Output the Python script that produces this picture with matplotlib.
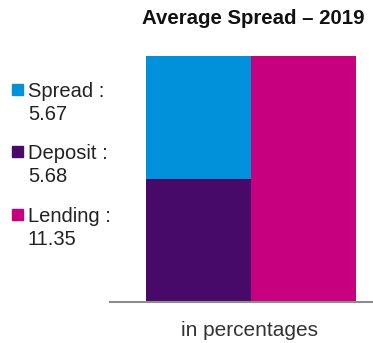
import matplotlib
matplotlib.use("Agg")
import matplotlib.pyplot as plt
from matplotlib.patches import Rectangle

plt.rcParams['font.family'] = ['Liberation Sans', 'DejaVu Sans']

# Data
labels = ["Spread", "Deposit", "Lending"]
values = [5.67, 5.68, 11.35]
colors = ["#0091DA", "#470A68", "#C6007E"]
title = "Average Spread \u2013 2019"
xlabel = "in percentages"

fig = plt.figure(figsize=(3.73, 3.43), dpi=100)
ax = fig.add_axes([110 / 373, 41 / 343, 263 / 373, 271 / 343])

# stacked bar: deposit on the bottom, spread on top; lending beside it
ax.bar(0, values[1], width=1.0, color=colors[1])
ax.bar(0, values[0], bottom=values[1], width=1.0, color=colors[0])
ax.bar(1, values[2], width=1.0, color=colors[2])

ax.set_xlim(-0.843, 1.662)
ax.set_ylim(0, 12.5)
for s in ["top", "right", "left"]:
    ax.spines[s].set_visible(False)
ax.spines["bottom"].set_color("#8c8c8c")
ax.spines["bottom"].set_linewidth(1.5)
ax.set_xticks([])
ax.set_yticks([])
ax.set_xlabel(xlabel, fontsize=15, color="#333333", labelpad=14, x=0.532)

fig.text(253 / 373, 1 - 19 / 343, title, fontsize=14.7, fontweight="bold",
         ha="center", va="center", color="#111111")

# legend on the left
for i, (lab, val, col) in enumerate(zip(labels, values, colors)):
    y0 = 1 - (97 + i * 62.5) / 343
    fig.patches.append(Rectangle((12 / 373, y0 + 2 / 343), 11 / 373, 11 / 343,
                                 transform=fig.transFigure, color=col))
    fig.text(28 / 373, y0, f"{lab} :", fontsize=14.5, color="#222222",
             ha="left", va="baseline")
    fig.text(28 / 373, y0 - 23 / 343, f"{val:.2f}", fontsize=14.5,
             color="#222222", ha="left", va="baseline")

fig.savefig("out.png", dpi=100)
